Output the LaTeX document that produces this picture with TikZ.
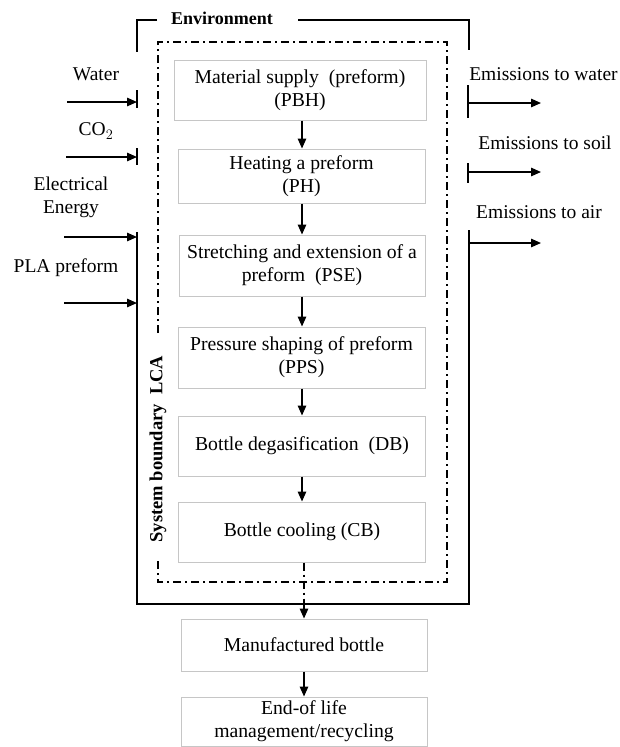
\documentclass[tikz,border=0pt]{standalone}
\usepackage{fontspec}
\setmainfont{Liberation Serif}
\usetikzlibrary{arrows.meta}
\begin{document}
\begin{tikzpicture}[x=1pt,y=-1pt,
  stage/.style={draw=gray!45, line width=1pt, align=center, inner sep=0pt,
    font=\fontsize{19.7}{23}\selectfont},
  lbl/.style={font=\fontsize{19.5}{23}\selectfont, align=center, inner sep=0pt},
  flow/.style={line width=1.5pt, -{Triangle[length=10pt,width=8.5pt]}},
  envline/.style={line width=1.8pt},
  sysb/.style={line width=1.3pt, dash pattern=on 8pt off 4pt on 2pt off 4pt},
  bar/.style={line width=1.6pt}]
\useasboundingbox (0,0) rectangle (619,747);

% environment box
\draw[envline] (157,20) -- (137,20) -- (137,52);
\draw[envline] (298,20) -- (469,20) -- (469,50);
\draw[envline] (137,232) -- (137,604) -- (469,604) -- (469,230);
\node[font=\bfseries\fontsize{18}{20}\selectfont, inner sep=0pt] (env) at (222,18) {Environment};

% system boundary
\draw[sysb] (158,333) -- (158,42) -- (447,42) -- (447,582) -- (158,582) -- (158,560);
\node[rotate=90, font=\bfseries\fontsize{18.5}{20}\selectfont, inner sep=0pt] (sbl) at (158,449) {System boundary\ \ LCA};

% stages
\node[stage, minimum width=252pt, minimum height=60pt] (b1) at (300,90) {Material supply\ \ (preform)\\(PBH)};
\node[stage, minimum width=247pt, minimum height=54pt] (b2) at (301.5,176) {Heating a preform\\(PH)};
\node[stage, minimum width=246pt, minimum height=61pt] (b3) at (302,265.5) {Stretching and extension of a\\preform\ \ (PSE)};
\node[stage, minimum width=247pt, minimum height=61pt] (b4) at (301.5,357.5) {Pressure shaping of preform\\(PPS)};
\node[stage, minimum width=247pt, minimum height=60pt] (b5) at (302,446) {Bottle degasification\ \ (DB)};
\node[stage, minimum width=247pt, minimum height=60pt] (b6) at (302,532) {Bottle cooling (CB)};
\node[stage, minimum width=246pt, minimum height=52pt] (b7) at (304,645) {Manufactured bottle};
\node[stage, minimum width=246pt, minimum height=49pt] (b8) at (304,721.5) {End-of life\\management/recycling};

\draw[flow] (b1.south -| 302,0) -- (b2.north -| 302,0);
\draw[flow] (b2.south -| 302,0) -- (b3.north -| 302,0);
\draw[flow] (b3.south -| 302,0) -- (b4.north -| 302,0);
\draw[flow] (b4.south -| 302,0) -- (b5.north -| 302,0);
\draw[flow] (b5.south -| 302,0) -- (b6.north -| 302,0);
\coordinate (envB) at (304,604);
\draw[sysb] (b6.south -| envB) -- (envB);
\draw[flow] (envB) -- (b7.north -| envB);
\draw[flow] (b7.south) -- (b8.north);

% inputs
\node[lbl] (lw) at (96,74) {Water};
\node[lbl] (lc) at (96,131) {CO$_2$};
\node[lbl] (le) at (71,197) {Electrical\\Energy};
\node[lbl] (lp) at (66,268) {PLA preform};
\coordinate (iw0) at (67,102); \coordinate (iw1) at (137,102);
\coordinate (ic0) at (66,157); \coordinate (ic1) at (137,157);
\coordinate (ie0) at (64,237); \coordinate (ie1) at (137,237);
\coordinate (ip0) at (64,303); \coordinate (ip1) at (137,303);
\draw[flow] (iw0) -- (iw1);
\draw[flow] (ic0) -- (ic1);
\draw[flow] (ie0) -- (ie1);
\draw[flow] (ip0) -- (ip1);
\draw[bar] (137,90) -- (137,108);
\draw[bar] (137,148) -- (137,165);

% outputs
\node[lbl] (ow) at (543.5,74) {Emissions to water};
\node[lbl] (os) at (545,143) {Emissions to soil};
\node[lbl] (oa) at (539,212) {Emissions to air};
\coordinate (ow0) at (469,103); \coordinate (ow1) at (541,103);
\coordinate (os0) at (469,172); \coordinate (os1) at (541,172);
\coordinate (oa0) at (469,243); \coordinate (oa1) at (541,243);
\draw[flow] (ow0) -- (ow1);
\draw[flow] (os0) -- (os1);
\draw[flow] (oa0) -- (oa1);
\draw[bar] (468,85) -- (468,118);
\draw[bar] (468,163) -- (468,183);
\end{tikzpicture}
\end{document}
